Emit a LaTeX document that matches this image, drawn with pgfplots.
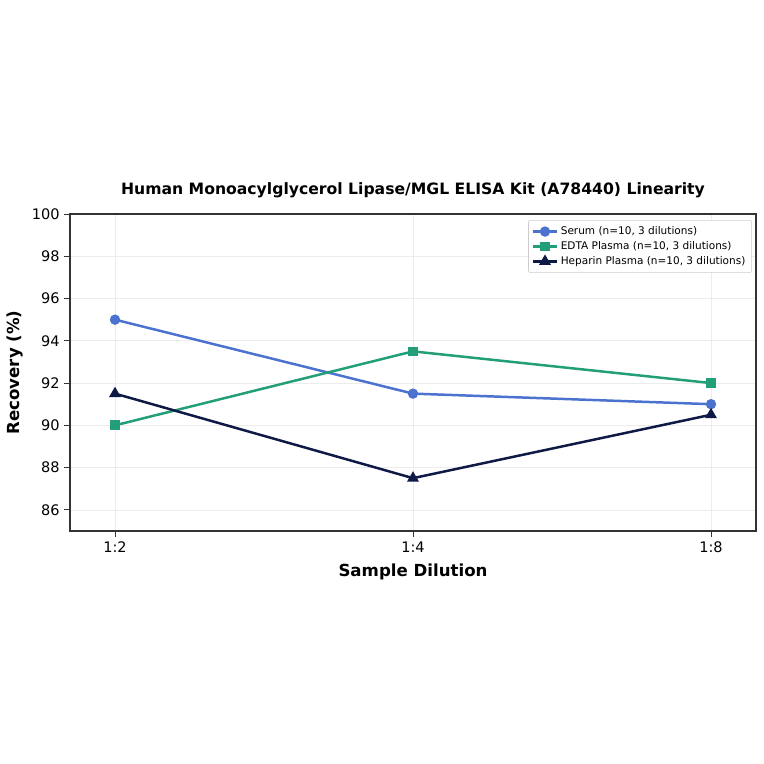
\documentclass[border=0pt]{standalone}
\usepackage{pgfplots}
\pgfplotsset{compat=1.18}
\usepackage{fontspec}
\setmainfont{DejaVu Sans}

\definecolor{serum}{HTML}{4C72D0}
\definecolor{edta}{HTML}{229E78}
\definecolor{heparin}{HTML}{0E1A45}
\definecolor{spine}{HTML}{333333}

\begin{document}
\begin{tikzpicture}
\path[use as bounding box] (0in,0in) rectangle (7.64in,7.64in);
\begin{axis}[
    at={(0.70in,2.33in)}, anchor=south west,
    width=6.86in, height=3.17in, scale only axis,
    xmin=-0.151, xmax=2.151,
    ymin=85, ymax=100,
    xtick={0,1,2},
    xticklabels={1:2,1:4,1:8},
    ytick={86,88,...,100},
    xtick pos=bottom, ytick pos=left,
    /pgf/number format/assume math mode=true,
    tick label style={font=\fontsize{10.5}{12}\selectfont},
    tick align=outside,
    major tick length=4pt,
    tick style={spine, line width=0.6pt},
    axis line style={spine, line width=0.9pt},
    grid=major,
    grid style={gray!15, line width=0.5pt},
    title={\bfseries Human Monoacylglycerol Lipase/MGL ELISA Kit (A78440) Linearity},
    title style={font=\fontsize{11.3}{13}\selectfont, at={(0.5,1)}, anchor=base, yshift=8pt},
    xlabel={\bfseries Sample Dilution},
    ylabel={\bfseries Recovery (\%)},
    label style={font=\fontsize{12}{14}\selectfont},
    xlabel style={at={(0.5,0)}, anchor=base, yshift=-33pt},
    ylabel style={at={(0,0.5)}, anchor=center, yshift=0.55in},
    legend style={at={(0.994,0.981)}, anchor=north east,
        font=\fontsize{7.6}{9.5}\selectfont, draw=gray!40, rounded corners=1.5pt,
        row sep=-0.5pt, inner sep=2.5pt},
    legend cell align=left,
    legend image code/.code={
        \draw[mark repeat=2,mark phase=2] plot coordinates {(0cm,0cm) (0.3cm,0cm) (0.6cm,0cm)};},
]
\addplot[serum, line width=1.8pt, mark=*, mark size=2.8pt] coordinates {
    (0, 95.0) (1, 91.5) (2, 91.0)
};
\addplot[edta, line width=1.8pt, mark=square*, mark size=2.6pt] coordinates {
    (0, 90.0) (1, 93.5) (2, 92.0)
};
\addplot[heparin, line width=1.8pt, mark=triangle*, mark size=3.2pt] coordinates {
    (0, 91.5) (1, 87.5) (2, 90.5)
};
\legend{{Serum (n=10, 3 dilutions)}, {EDTA Plasma (n=10, 3 dilutions)}, {Heparin Plasma (n=10, 3 dilutions)}}
\end{axis}
\end{tikzpicture}
\end{document}
